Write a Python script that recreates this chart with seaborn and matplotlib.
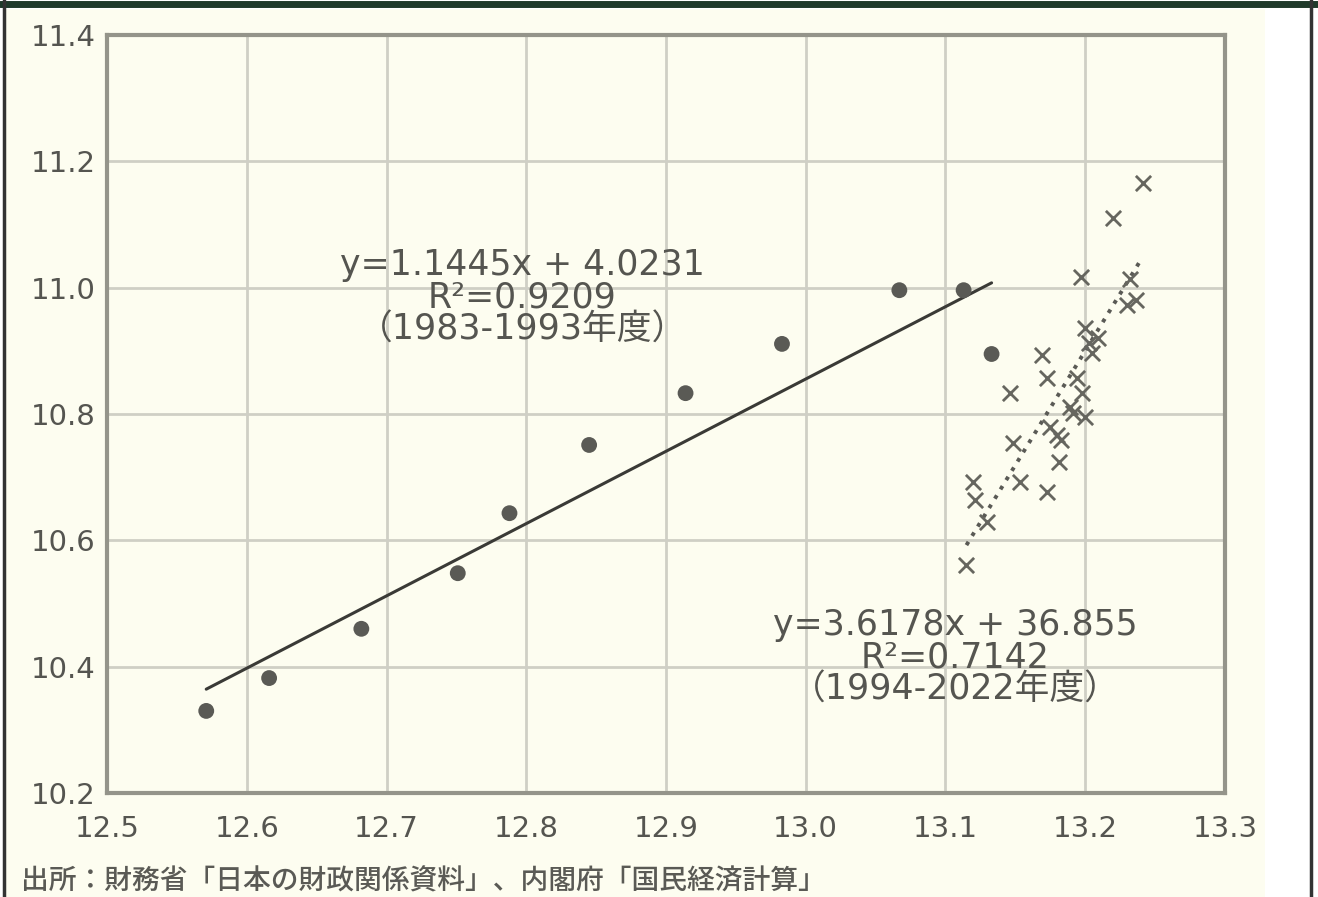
import numpy as np
import pandas as pd
import matplotlib.pyplot as plt
import seaborn as sns

# 1983-1993年度 (●)
x_early = [12.571, 12.616, 12.682, 12.751, 12.788, 12.845, 12.914, 12.983, 13.067, 13.113, 13.133]
y_early = [10.330, 10.382, 10.460, 10.548, 10.643, 10.751, 10.833, 10.911, 10.996, 10.996, 10.895]

# 1994-2022年度 (×)
x_late = [13.241, 13.220, 13.197, 13.232, 13.230, 13.200, 13.209, 13.205, 13.169, 13.173,
          13.146, 13.194, 13.198, 13.191, 13.180, 13.148, 13.183, 13.181, 13.153, 13.173,
          13.120, 13.121, 13.130, 13.115, 13.189, 13.200, 13.203, 13.236, 13.175]
y_late = [11.165, 11.110, 11.017, 11.013, 10.972, 10.936, 10.920, 10.896, 10.893, 10.857,
          10.834, 10.857, 10.833, 10.801, 10.767, 10.754, 10.759, 10.724, 10.692, 10.676,
          10.692, 10.664, 10.629, 10.561, 10.811, 10.795, 10.912, 10.980, 10.780]

# 回帰式 (図中の表記どおり)
fit_early = (1.1445, -4.0231)
fit_late = (3.6178, -36.855)
label_early = "y=1.1445x + 4.0231\nR²=0.9209\n（1983-1993年度）"
label_late = "y=3.6178x + 36.855\nR²=0.7142\n（1994-2022年度）"

x_ticks = [12.5, 12.6, 12.7, 12.8, 12.9, 13.0, 13.1, 13.2, 13.3]
y_ticks = [10.2, 10.4, 10.6, 10.8, 11.0, 11.2, 11.4]
source = "出所：財務省「日本の財政関係資料」、内閣府「国民経済計算」"

sns.set_style("white")
plt.rcParams['font.family'] = ['DejaVu Sans', 'Noto Sans CJK JP']

cream = "#fdfdf0"
ink = "#555550"

fig = plt.figure(figsize=(13.18, 8.97), dpi=100, facecolor="white")
fig.patches.append(plt.Rectangle((0.004, 0), 0.956, 0.99, transform=fig.transFigure,
                                 facecolor=cream, edgecolor="none", zorder=-10))
# 枠線
fig.add_artist(plt.Line2D([0, 1], [0.995, 0.995], color="#1f3a2a", lw=5))
fig.add_artist(plt.Line2D([0.003, 0.003], [0, 1], color="#333333", lw=2.5))
fig.add_artist(plt.Line2D([0.995, 0.995], [0, 1], color="#333333", lw=2.5))

ax = fig.add_axes([0.0812, 0.1159, 0.8482, 0.8451])
ax.set_facecolor(cream)

df_e = pd.DataFrame({"x": x_early, "y": y_early})
df_l = pd.DataFrame({"x": x_late, "y": y_late})

# 回帰直線
xe = np.array([min(x_early), max(x_early)])
sns.lineplot(x=xe, y=fit_early[0] * xe + fit_early[1], ax=ax, color="#3a3a36", lw=2.2)
xl = np.array([min(x_late), max(x_late)])
sns.lineplot(x=xl, y=fit_late[0] * xl + fit_late[1], ax=ax, color="#5a5a55", lw=2.8,
             linestyle=(0, (1, 1.8)))

sns.scatterplot(data=df_e, x="x", y="y", ax=ax, marker="o", s=130, color="#5a5a55",
                edgecolor="none", zorder=3)
sns.scatterplot(data=df_l, x="x", y="y", ax=ax, marker="x", s=120, color="#66665f",
                linewidth=2.0, zorder=3)

ax.text(12.797, 10.985, label_early, ha="center", va="center", fontsize=25,
        color=ink, linespacing=0.93, family=['DejaVu Sans', 'Noto Sans CJK JP'])
ax.text(13.107, 10.415, label_late, ha="center", va="center", fontsize=25,
        color=ink, linespacing=0.93, family=['DejaVu Sans', 'Noto Sans CJK JP'])

ax.set_xlim(12.5, 13.3)
ax.set_ylim(10.2, 11.4)
ax.set_xticks(x_ticks)
ax.set_yticks(y_ticks)
ax.set_xticklabels([f"{v:.1f}" for v in x_ticks])
ax.set_yticklabels([f"{v:.1f}" for v in y_ticks])
ax.tick_params(axis="both", labelsize=21, labelcolor=ink, length=0)
ax.tick_params(axis="x", pad=16)
ax.tick_params(axis="y", pad=8)
ax.grid(True, color="#cfcfc5", lw=2)
for s in ax.spines.values():
    s.set_color("#94948a")
    s.set_linewidth(3)
ax.set_xlabel("")
ax.set_ylabel("")

fig.text(0.016, 0.008, source, fontsize=20, color="#5a5a55", weight="medium",
         family=['Noto Sans CJK JP', 'DejaVu Sans'])

fig.savefig("out.png", dpi=100, facecolor=fig.get_facecolor())
